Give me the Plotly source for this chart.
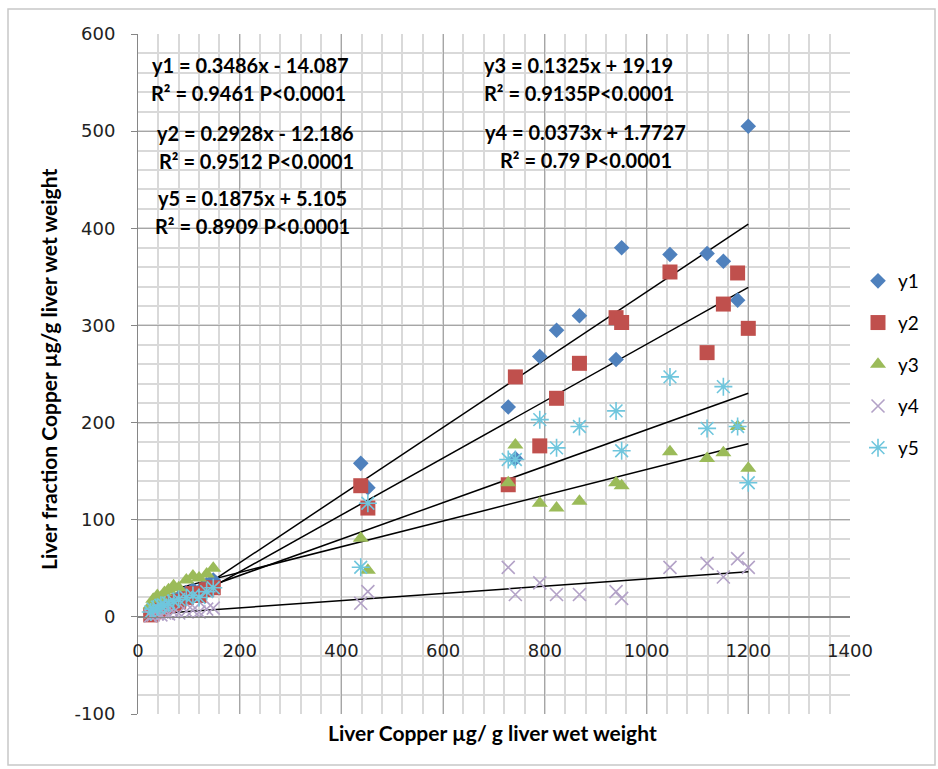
import plotly.graph_objects as go

# ---------------- data ----------------
x_vals = [25, 30, 38, 45, 52, 60, 70, 80, 95, 108, 120, 135, 148,
          438, 452, 728, 742, 790, 823, 868, 940, 951, 1046, 1119, 1151, 1179, 1200]
y1 = [3, 6, 10, 8, 14, 12, 18, 20, 25, 28, 26, 33, 38,
      158, 133, 216, 163, 268, 295, 310, 265, 380, 373, 374, 366, 326, 505]
y2 = [2, 5, 8, 7, 10, 12, 14, 16, 20, 24, 22, 28, 30,
      135, 112, 136, 247, 176, 225, 261, 308, 303, 355, 272, 322, 354, 297]
y3 = [12, 18, 22, 20, 25, 28, 32, 30, 38, 42, 40, 44, 50,
      81, 48, 138, 177, 117, 112, 119, 138, 135, 170, 163, 169, 196, 153]
y4 = [1, 2, 3, 2, 4, 3, 5, 4, 6, 7, 5, 8, 9,
      14, 26, 51, 23, 35, 23, 23, 26, 19, 51, 55, 41, 60, 51]
y5 = [5, 8, 10, 12, 12, 14, 16, 18, 20, 22, 20, 26, 30,
      51, 117, 162, 162, 203, 174, 196, 212, 171, 247, 194, 237, 196, 138]

series_names = ["y1", "y2", "y3", "y4", "y5"]
slopes = [0.3486, 0.2928, 0.1325, 0.0373, 0.1875]
intercepts = [-14.087, -12.186, 19.19, 1.7727, 5.105]
r2_labels = ["0.9461 P<0.0001", "0.9512 P<0.0001", "0.9135P<0.0001", "0.79 P<0.0001", "0.8909 P<0.0001"]
fit_x_range = [28, 1200]

x_ticks = [0, 200, 400, 600, 800, 1000, 1200, 1400]
y_ticks = [-100, 0, 100, 200, 300, 400, 500, 600]

# ---------------- styles ----------------
colors = ["#4F81BD", "#C0504D", "#9BBB59", "#B3A2C7", "#6FC6DD"]
symbols = ["diamond", "square", "triangle-up", "x-thin-open", "asterisk-open"]
sizes = [12, 15, 14, 13, 15]

fig = go.Figure()

# trend lines
for s, b in zip(slopes, intercepts):
    fig.add_trace(go.Scatter(
        x=fit_x_range, y=[s * fit_x_range[0] + b, s * fit_x_range[1] + b],
        mode="lines", line=dict(color="black", width=1.5),
        showlegend=False, hoverinfo="skip"))

ys = [y1, y2, y3, y4, y5]
for i in range(5):
    open_sym = symbols[i].endswith("open")
    fig.add_trace(go.Scatter(
        x=x_vals, y=ys[i], mode="markers", name=series_names[i],
        legendgroup=series_names[i], legendrank=i + 1,
        marker=dict(symbol=symbols[i], size=sizes[i], color=colors[i],
                    line=dict(width=1.6 if open_sym else 0, color=colors[i])),
        cliponaxis=False))

L, R, T, B = 138, 88, 34, 55
W, H = 938, 769
pw, ph = W - L - R, H - T - B

def px(xp):
    return (xp - L) / pw

def py(yp):
    return (H - B - yp) / ph

eq_font = dict(family="Lato", size=20, color="black")

annotations = []
eq_pos = {
    "y1": ((250, 65), (248, 93)),
    "y2": ((255, 133), (256, 161)),
    "y5": ((252, 198), (252, 226)),
    "y3": ((578, 65), (579, 93)),
    "y4": ((585, 132), (586, 160)),
}
for i, n in enumerate(series_names):
    (ex, ey), (rx, ry) = eq_pos[n]
    sign = "+" if intercepts[i] >= 0 else "-"
    annotations.append(dict(
        x=px(ex), y=py(ey), xref="paper", yref="paper", showarrow=False,
        text=f"<b>{n} = {slopes[i]}x {sign} {abs(intercepts[i])}</b>",
        font=eq_font, xanchor="center", yanchor="middle"))
    annotations.append(dict(
        x=px(rx), y=py(ry), xref="paper", yref="paper", showarrow=False,
        text=f"<b>R² = {r2_labels[i]}</b>",
        font=eq_font, xanchor="center", yanchor="middle"))

# axis titles
annotations.append(dict(
    x=px(492), y=py(733), xref="paper", yref="paper", showarrow=False,
    text="<b>Liver Copper µg/ g liver wet weight</b>",
    font=dict(family="Lato", size=21, color="black"), xanchor="center", yanchor="middle"))
annotations.append(dict(
    x=px(48), y=py(370), xref="paper", yref="paper", showarrow=False, textangle=-90,
    text="<b>Liver fraction Copper µg/g liver wet weight</b>",
    font=dict(family="Lato", size=21, color="black"), xanchor="center", yanchor="middle"))

fig.update_layout(
    width=W, height=H,
    margin=dict(l=L, r=R, t=T, b=B, pad=0),
    paper_bgcolor="white", plot_bgcolor="white",
    font=dict(family="DejaVu Sans", size=18, color="#222"),
    annotations=annotations,
    shapes=[dict(type="rect", xref="paper", yref="paper",
                 x0=px(8), x1=px(935), y0=py(765), y1=py(9),
                 line=dict(color="#C8C8C8", width=1.5), fillcolor="rgba(0,0,0,0)", layer="below")],
    legend=dict(x=px(858), y=py(262), xanchor="left", yanchor="top",
                font=dict(family="Lato", size=19, color="black"),
                tracegroupgap=14, bgcolor="rgba(0,0,0,0)"),
    showlegend=True,
)

fig.update_xaxes(
    range=[0, 1400], tickvals=x_ticks, ticktext=[str(v) for v in x_ticks],
    showgrid=True, gridcolor="#A6A6A6", gridwidth=1,
    minor=dict(dtick=40, tick0=0, showgrid=True, gridcolor="#D9D9D9", gridwidth=1.5),
    anchor="free", position=py(617), showline=True, linecolor="#868686", linewidth=1,
    zeroline=False, ticks="", ticklabelstandoff=17,
    tickfont=dict(family="DejaVu Sans", size=18, color="#222"))
fig.update_yaxes(
    range=[-100, 600], tickvals=y_ticks, ticktext=[str(v) for v in y_ticks],
    showgrid=True, gridcolor="#A6A6A6", gridwidth=1,
    minor=dict(dtick=20, tick0=0, showgrid=True, gridcolor="#D9D9D9", gridwidth=1.5),
    showline=True, linecolor="#868686", linewidth=1, zeroline=True, zerolinecolor="#868686",
    ticks="outside", ticklen=6, tickcolor="#868686", ticklabelstandoff=12,
    tickfont=dict(family="DejaVu Sans", size=18, color="#222"))

fig.write_html("out.html")
